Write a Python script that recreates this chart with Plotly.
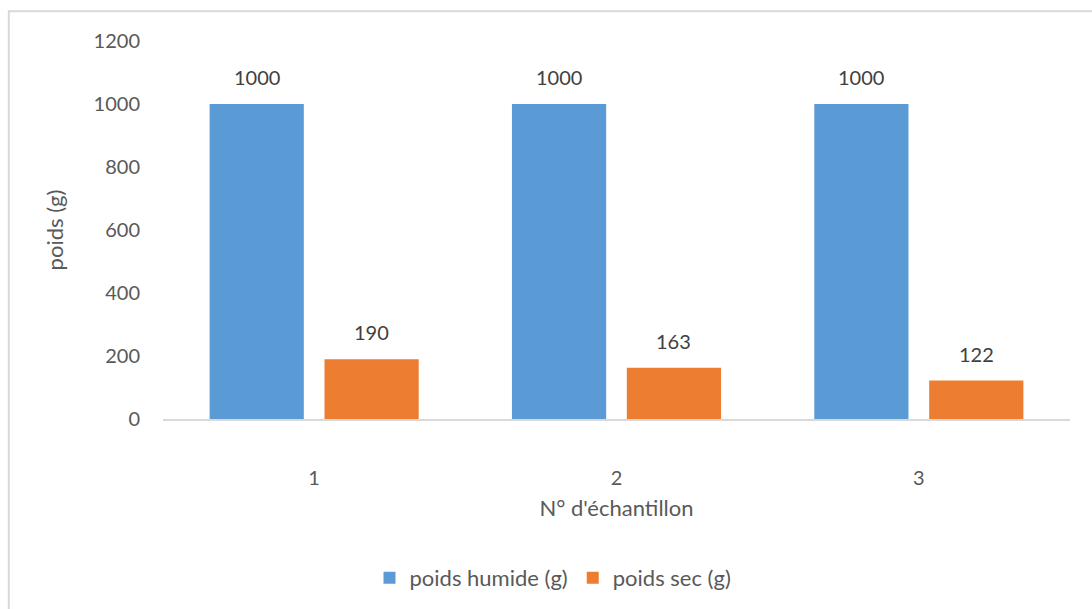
import plotly.graph_objects as go

# Sample numbers and measured weights (g)
samples = ["1", "2", "3"]
wet_weight = [1000, 1000, 1000]
dry_weight = [190, 163, 122]
y_ticks = [0, 200, 400, 600, 800, 1000, 1200]

FONT = "Lato"
TEXT = "#595959"
LABEL = "#404040"
BARGAP = 0.24
BARGROUPGAP = 0.18

fig = go.Figure()
fig.add_trace(go.Bar(
    x=samples, y=wet_weight, name="poids humide (g)",
    marker=dict(color="#5B9BD5", line=dict(width=0)),
))
fig.add_trace(go.Bar(
    x=samples, y=dry_weight, name="poids sec (g)",
    marker=dict(color="#ED7D31", line=dict(width=0)),
))

# value labels centred over each bar of the group
slot = (1 - BARGAP) / 2
annotations = []
for series, side in ((wet_weight, -1), (dry_weight, 1)):
    for i, v in enumerate(series):
        annotations.append(dict(
            x=i + side * slot / 2, y=v, xref="x", yref="y",
            text=str(v), showarrow=False, yanchor="bottom", yshift=13,
            font=dict(family=FONT, size=20, color=LABEL),
        ))

fig.update_layout(
    width=1092, height=609,
    margin=dict(l=163, r=22, t=41, b=189),
    paper_bgcolor="white", plot_bgcolor="white",
    barmode="group", bargap=BARGAP, bargroupgap=BARGROUPGAP,
    font=dict(family=FONT, size=20, color=TEXT),
    showlegend=True,
    legend=dict(
        orientation="h", x=0.43, xanchor="center", y=-0.417, yanchor="middle",
        font=dict(family=FONT, size=22, color=TEXT),
        itemwidth=30, traceorder="normal",
    ),
    xaxis=dict(
        type="category", showgrid=False, zeroline=False,
        showline=True, linecolor="#D9D9D9", linewidth=2,
        ticks="", ticklabelstandoff=40,
        tickfont=dict(family=FONT, size=20, color=TEXT),
        title=dict(text="N° d'échantillon", standoff=13,
                   font=dict(family=FONT, size=22, color=TEXT)),
    ),
    yaxis=dict(
        range=[0, 1200], tickvals=y_ticks, showgrid=False, zeroline=False,
        showline=False, ticks="", ticklabelstandoff=22,
        tickfont=dict(family=FONT, size=20, color=TEXT),
        title=dict(text="poids (g)", standoff=23,
                   font=dict(family=FONT, size=22, color=TEXT)),
    ),
    annotations=annotations,
    shapes=[dict(
        type="rect", xref="paper", yref="paper",
        x0=-0.170, x1=1.05, y0=-0.53, y1=1.079,
        line=dict(color="#D9D9D9", width=2), fillcolor="rgba(0,0,0,0)",
        layer="below",
    )],
)

fig.write_html("out.html")
